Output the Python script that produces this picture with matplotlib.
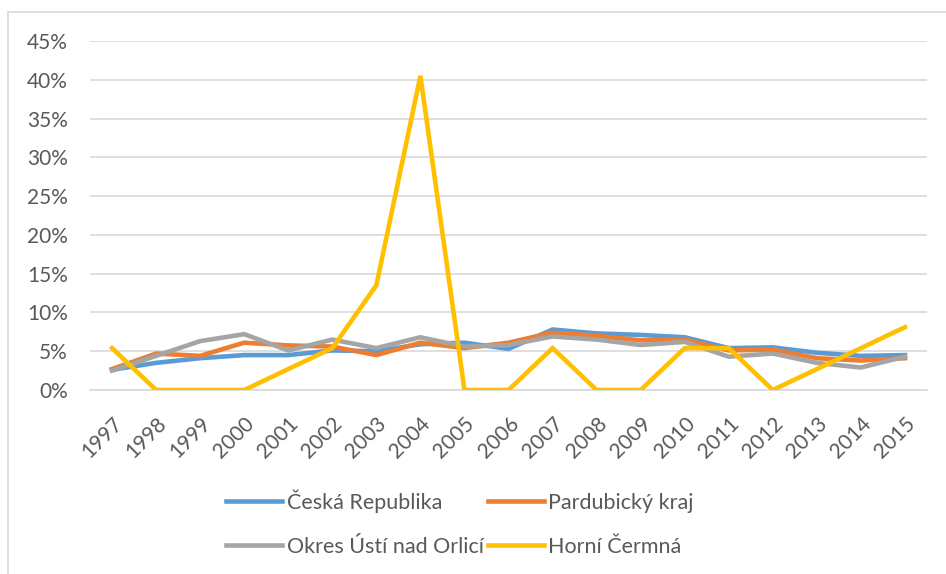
import matplotlib
matplotlib.use("Agg")
import matplotlib.pyplot as plt
from matplotlib.patches import Rectangle
from matplotlib.ticker import FuncFormatter, MultipleLocator

years = [str(y) for y in range(1997, 2016)]
ceska_republika = [2.6, 3.5, 4.1, 4.5, 4.5, 5.1, 5.0, 5.9, 6.1, 5.3, 7.8, 7.3, 7.1, 6.8, 5.4, 5.5, 4.8, 4.4, 4.5]
pardubicky_kraj = [2.7, 4.7, 4.4, 6.1, 5.75, 5.6, 4.5, 6.1, 5.4, 6.1, 7.4, 7.0, 6.4, 6.5, 5.1, 5.2, 4.1, 3.8, 4.1]
okres_usti = [2.5, 4.4, 6.3, 7.2, 5.1, 6.5, 5.4, 6.8, 5.6, 5.8, 6.9, 6.5, 5.8, 6.2, 4.3, 4.7, 3.5, 2.9, 4.3]
horni_cermna = [5.4, 0, 0, 0, 2.7, 5.4, 13.5, 40.5, 0, 0, 5.4, 0, 0, 5.4, 5.4, 0, 2.7, 5.4, 8.1]

series_names = ["Česká Republika", "Pardubický kraj", "Okres Ústí nad Orlicí", "Horní Čermná"]
colors = ["#5B9BD5", "#ED7D31", "#A5A5A5", "#FFC000"]

plt.rcParams['font.family'] = ['Lato', 'DejaVu Sans']

fig = plt.figure(figsize=(9.46, 5.74), dpi=100)
W, H = 946, 574
ax = fig.add_axes([90 / W, 1 - 390 / H, (927 - 90) / W, (390 - 41) / H])

x = list(range(len(years)))
handles = []
for data, name, c in zip([ceska_republika, pardubicky_kraj, okres_usti, horni_cermna], series_names, colors):
    h, = ax.plot(x, data, color=c, lw=3.3, label=name, solid_joinstyle='miter', zorder=3)
    handles.append(h)

ax.set_xlim(-0.5, len(years) - 0.5)
ax.set_ylim(0, 45)
ax.yaxis.set_major_locator(MultipleLocator(5))
ax.yaxis.set_major_formatter(FuncFormatter(lambda v, p: f"{int(round(v))}%"))
ax.set_xticks(x)
ax.set_xticklabels(years, rotation=45, ha='right', va='top', rotation_mode='anchor')
ax.grid(axis='y', color='#D9D9D9', lw=1.2, zorder=0)
for s in ax.spines.values():
    s.set_visible(False)
ax.spines['bottom'].set_visible(True)
ax.spines['bottom'].set_color('#D9D9D9')
ax.spines['bottom'].set_linewidth(1.2)
ax.tick_params(axis='both', length=0, labelsize=15, labelcolor='#595959')
ax.tick_params(axis='y', pad=16)
ax.tick_params(axis='x', pad=17)

order = [0, 2, 1, 3]
leg = fig.legend([handles[i] for i in order], [series_names[i] for i in order],
                 ncol=2, loc='center', bbox_to_anchor=(460 / W, 1 - 523 / H),
                 frameon=False, fontsize=15.5, handlelength=2.6, handletextpad=0.2,
                 columnspacing=0.2, labelspacing=1.1)
for t in leg.get_texts():
    t.set_color('#595959')

fig.patches.append(Rectangle((8 / W, -0.01), 1.0, 1 - 12 / H + 0.01, transform=fig.transFigure,
                             fill=False, edgecolor='#D9D9D9', lw=1.2))

fig.savefig("out.png", dpi=100)
